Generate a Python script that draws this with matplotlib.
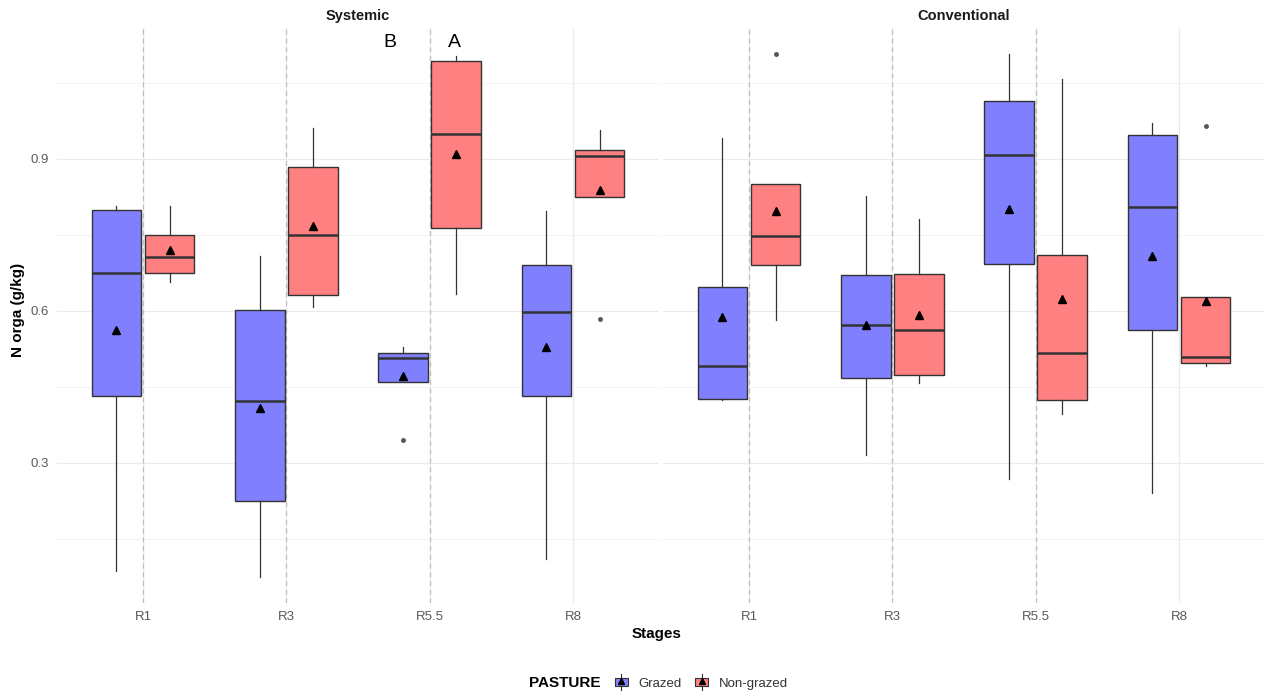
import matplotlib
matplotlib.use('Agg')
import matplotlib.pyplot as plt
from matplotlib.patches import Patch, Rectangle
from matplotlib.lines import Line2D
from matplotlib.legend_handler import HandlerBase

plt.rcParams['font.family'] = ['Liberation Sans', 'DejaVu Sans']

stages = ['R1', 'R3', 'R5.5', 'R8']
systems = ['Systemic', 'Conventional']
pastures = ['Grazed', 'Non-grazed']

# rows = stage, cols = whisker low, q1, median, q3, whisker high, mean
systemic_grazed = [[0.087, 0.431, 0.674, 0.799, 0.807, 0.561],
                   [0.075, 0.225, 0.422, 0.601, 0.707, 0.407],
                   [0.460, 0.460, 0.507, 0.516, 0.528, 0.472],
                   [0.110, 0.431, 0.598, 0.691, 0.797, 0.528]]
systemic_nongrazed = [[0.656, 0.674, 0.706, 0.749, 0.806, 0.720],
                      [0.608, 0.630, 0.749, 0.884, 0.960, 0.767],
                      [0.633, 0.764, 0.949, 1.093, 1.103, 0.910],
                      [0.825, 0.825, 0.906, 0.918, 0.957, 0.838]]
conventional_grazed = [[0.424, 0.426, 0.491, 0.646, 0.940, 0.587],
                       [0.316, 0.468, 0.571, 0.670, 0.826, 0.572],
                       [0.268, 0.692, 0.908, 1.013, 1.107, 0.800],
                       [0.240, 0.562, 0.805, 0.946, 0.970, 0.707]]
conventional_nongrazed = [[0.582, 0.690, 0.747, 0.851, 0.851, 0.797],
                          [0.458, 0.473, 0.562, 0.672, 0.781, 0.592],
                          [0.397, 0.424, 0.517, 0.709, 1.058, 0.623],
                          [0.491, 0.497, 0.509, 0.628, 0.628, 0.620]]

systemic_grazed_out = [[], [], [0.344], []]
systemic_nongrazed_out = [[], [], [], [0.584]]
conventional_grazed_out = [[], [], [], []]
conventional_nongrazed_out = [[1.107], [], [], [0.964]]

letters = ['B', 'A']
letter_x = [2.72, 3.17]
letter_y = [1.129, 1.129]

colors = {'Grazed': '#8080ff', 'Non-grazed': '#ff8080'}
offsets = {'Grazed': -0.185, 'Non-grazed': 0.185}
series = {
    ('Systemic', 'Grazed'): (systemic_grazed, systemic_grazed_out),
    ('Systemic', 'Non-grazed'): (systemic_nongrazed, systemic_nongrazed_out),
    ('Conventional', 'Grazed'): (conventional_grazed, conventional_grazed_out),
    ('Conventional', 'Non-grazed'): (conventional_nongrazed, conventional_nongrazed_out),
}
dark = '#333333'


class BoxKey(HandlerBase):
    # legend glyph: box with whisker and mean triangle, like ggplot's key
    def create_artists(self, legend, orig_handle, xdescent, ydescent, width,
                       height, fontsize, trans):
        x0, y0 = -xdescent, -ydescent
        cx = x0 + width / 2
        wl = Line2D([cx, cx], [y0 - height * 0.25, y0 + height * 1.25], color=dark,
                    lw=0.8, transform=trans)
        box = Rectangle((x0, y0 + height * 0.1), width, height * 0.8,
                        facecolor=orig_handle.get_facecolor(), edgecolor=dark,
                        lw=0.8, transform=trans)
        tri = Line2D([cx], [y0 + height * 0.55], marker='^', color='black',
                     ls='none', markersize=4.5, transform=trans)
        return [wl, box, tri]


W, H = 1266, 696
fig = plt.figure(figsize=(W / 100, H / 100), dpi=100)
ax_l = fig.add_axes([57 / W, 1 - 603 / H, 602 / W, 575 / H])
ax_r = fig.add_axes([663 / W, 1 - 603 / H, 602 / W, 575 / H])

for ax, system in zip([ax_l, ax_r], systems):
    ax.set_xlim(0.4, 4.6)
    ax.set_ylim(0.023, 1.158)
    ax.set_yticks([0.3, 0.6, 0.9])
    ax.set_yticks([0.15, 0.45, 0.75, 1.05], minor=True)
    ax.set_xticks(range(1, 5))
    ax.set_xticklabels(stages)
    ax.grid(which='major', color='#ebebeb', lw=0.9)
    ax.grid(which='minor', axis='y', color='#f2f2f2', lw=0.6)
    ax.set_axisbelow(True)
    for s in ax.spines.values():
        s.set_visible(False)
    ax.tick_params(which='both', length=0, labelsize=9.5, colors='#595959', pad=6)
    for x in [1, 2, 3]:
        ax.axvline(x, color='#bdbdbd', lw=0.9, ls=(0, (4, 3)), zorder=1)
    for p in pastures:
        data, outs = series[(system, p)]
        stats = []
        for row, fl in zip(data, outs):
            stats.append(dict(whislo=row[0], q1=row[1], med=row[2], q3=row[3],
                              whishi=row[4], mean=row[5], fliers=fl))
        pos = [i + 1 + offsets[p] for i in range(len(stages))]
        ax.bxp(stats, positions=pos, widths=0.345, patch_artist=True,
               showcaps=False, showmeans=True, manage_ticks=False,
               boxprops=dict(facecolor=colors[p], edgecolor=dark, lw=1),
               medianprops=dict(color=dark, lw=1.8),
               whiskerprops=dict(color=dark, lw=0.9),
               flierprops=dict(marker='o', markersize=2.5, markerfacecolor='#555555',
                               markeredgecolor='#555555'),
               meanprops=dict(marker='^', markersize=6, markerfacecolor='black',
                              markeredgecolor='black'))
    ax.set_title(system, fontsize=10.5, fontweight='bold', color='#1a1a1a', pad=6)

ax_r.tick_params(axis='y', labelleft=False)
for t, x, y in zip(letters, letter_x, letter_y):
    ax_l.text(x, y, t, fontsize=14, ha='center', va='center', color='black')

fig.text(18 / W, 1 - 310 / H, 'N orga (g/kg)', rotation=90, fontsize=11,
         fontweight='bold', ha='center', va='center')
fig.text(657 / W, 1 - 634 / H, 'Stages', fontsize=11, fontweight='bold',
         ha='center', va='center')

fig.text(600 / W, 1 - 683 / H, 'PASTURE', fontsize=11, fontweight='bold',
         ha='right', va='center')
handles = [Patch(facecolor=colors[p]) for p in pastures]
fig.legend(handles, pastures, loc='center left', bbox_to_anchor=(603 / W, 1 - 683 / H),
           ncol=2, frameon=False, fontsize=9.5, handlelength=1.0, handleheight=0.9,
           handletextpad=0.8, columnspacing=1.0, labelcolor='#333333',
           handler_map={Patch: BoxKey()})

fig.savefig('out.png', dpi=100)
